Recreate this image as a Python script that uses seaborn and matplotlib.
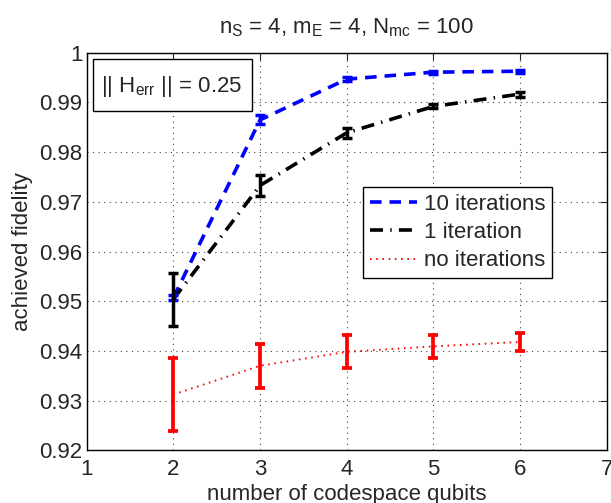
import numpy as np
import pandas as pd
import seaborn as sns
import matplotlib
matplotlib.use("Agg")
import matplotlib.pyplot as plt
from matplotlib.patches import Rectangle
from matplotlib.ticker import FormatStrFormatter

# values
qubits = [2, 3, 4, 5, 6]
fid_10it = [0.9507, 0.9865, 0.9947, 0.9961, 0.9963]
err_10it = [0.0005, 0.0009, 0.0004, 0.0003, 0.0003]
fid_1it = [0.9504, 0.9733, 0.9839, 0.9892, 0.9917]
err_1it = [0.0053, 0.0022, 0.0010, 0.0004, 0.0005]
fid_noit = [0.9312, 0.9370, 0.9398, 0.9409, 0.9418]
err_noit = [0.0073, 0.0044, 0.0033, 0.0023, 0.0018]

sns.set_style("white")
plt.rcParams["font.family"] = ["Liberation Sans", "DejaVu Sans"]
plt.rcParams["mathtext.fontset"] = "custom"
plt.rcParams["mathtext.rm"] = "Liberation Sans"
plt.rcParams["mathtext.it"] = "Liberation Sans:italic"
plt.rcParams["font.size"] = 16

df = pd.DataFrame({
    "qubits": qubits * 3,
    "fidelity": fid_10it + fid_1it + fid_noit,
    "series": ["10 iterations"] * 5 + ["1 iteration"] * 5 + ["no iterations"] * 5,
})

fig = plt.figure(figsize=(6.11, 5.03), dpi=100)
ax = fig.add_axes([0.142, 0.105, 0.851, 0.790])

colors = {"10 iterations": "#0000ff", "1 iteration": "black", "no iterations": "#ff0000"}
sns.lineplot(data=df, x="qubits", y="fidelity", hue="series", palette=colors,
             ax=ax, legend=False, zorder=3)
lines = ax.get_lines()
lines[0].set_linewidth(2.6)
lines[0].set_dashes((3.2, 2.2))
lines[1].set_linewidth(2.6)
lines[1].set_dashes((3.6, 2.0, 0.4, 2.0))
lines[2].set_linewidth(1.4)
lines[2].set_dashes((0.8, 2.4))

ax.errorbar(qubits, fid_10it, yerr=err_10it, fmt="none", ecolor="#0000ff",
            elinewidth=2.5, capsize=3.5, capthick=2.5, zorder=4)
ax.errorbar(qubits, fid_1it, yerr=err_1it, fmt="none", ecolor="black",
            elinewidth=2.5, capsize=3.5, capthick=2.5, zorder=5)
ax.errorbar(qubits, fid_noit, yerr=err_noit, fmt="none", ecolor="#ff0000",
            elinewidth=2.7, capsize=3.5, capthick=2.7, zorder=4)

ax.set_xlim(1, 7)
ax.set_ylim(0.92, 1.0)
ax.set_xticks(range(1, 8))
ax.set_yticks(np.arange(0.92, 1.0001, 0.01))
ax.yaxis.set_major_formatter(FormatStrFormatter("%g"))
ax.tick_params(direction="in", top=True, right=True, length=5, width=0.8,
               labelsize=16)
ax.tick_params(axis="x", pad=6)
ax.tick_params(axis="y", pad=3)
ax.grid(True, color="#444444", linestyle=(0, (1, 4)), linewidth=0.8)
for s in ax.spines.values():
    s.set_color("black")
    s.set_linewidth(1.0)

ax.set_xlabel("number of codespace qubits", fontsize=16, labelpad=3)
ax.set_ylabel("achieved fidelity", fontsize=16, labelpad=5)
ax.set_title(r"n$_\mathrm{S}$ = 4, m$_\mathrm{E}$ = 4, N$_\mathrm{mc}$ = 100",
             fontsize=16, pad=14)

# text box with the error norm
ax.add_patch(Rectangle((0.0115, 0.854), 0.3055, 0.131, transform=ax.transAxes,
                       facecolor="white", edgecolor="black", linewidth=1.0,
                       zorder=6))
ax.text(0.164, 0.902, r"|| H$_\mathrm{err}$ || = 0.25", transform=ax.transAxes,
        fontsize=16, ha="center", va="baseline", zorder=7)

leg = ax.legend(lines, ["10 iterations", "1 iteration", "no iterations"],
                loc="upper left", bbox_to_anchor=(0.531, 0.662),
                fancybox=False, framealpha=1, edgecolor="black",
                borderaxespad=0, fontsize=16, handlelength=2.15,
                handletextpad=0.28, labelspacing=0.33, borderpad=0.3)
leg.get_frame().set_linewidth(1.0)
leg.set_zorder(8)

fig.savefig("out.png", dpi=100)
